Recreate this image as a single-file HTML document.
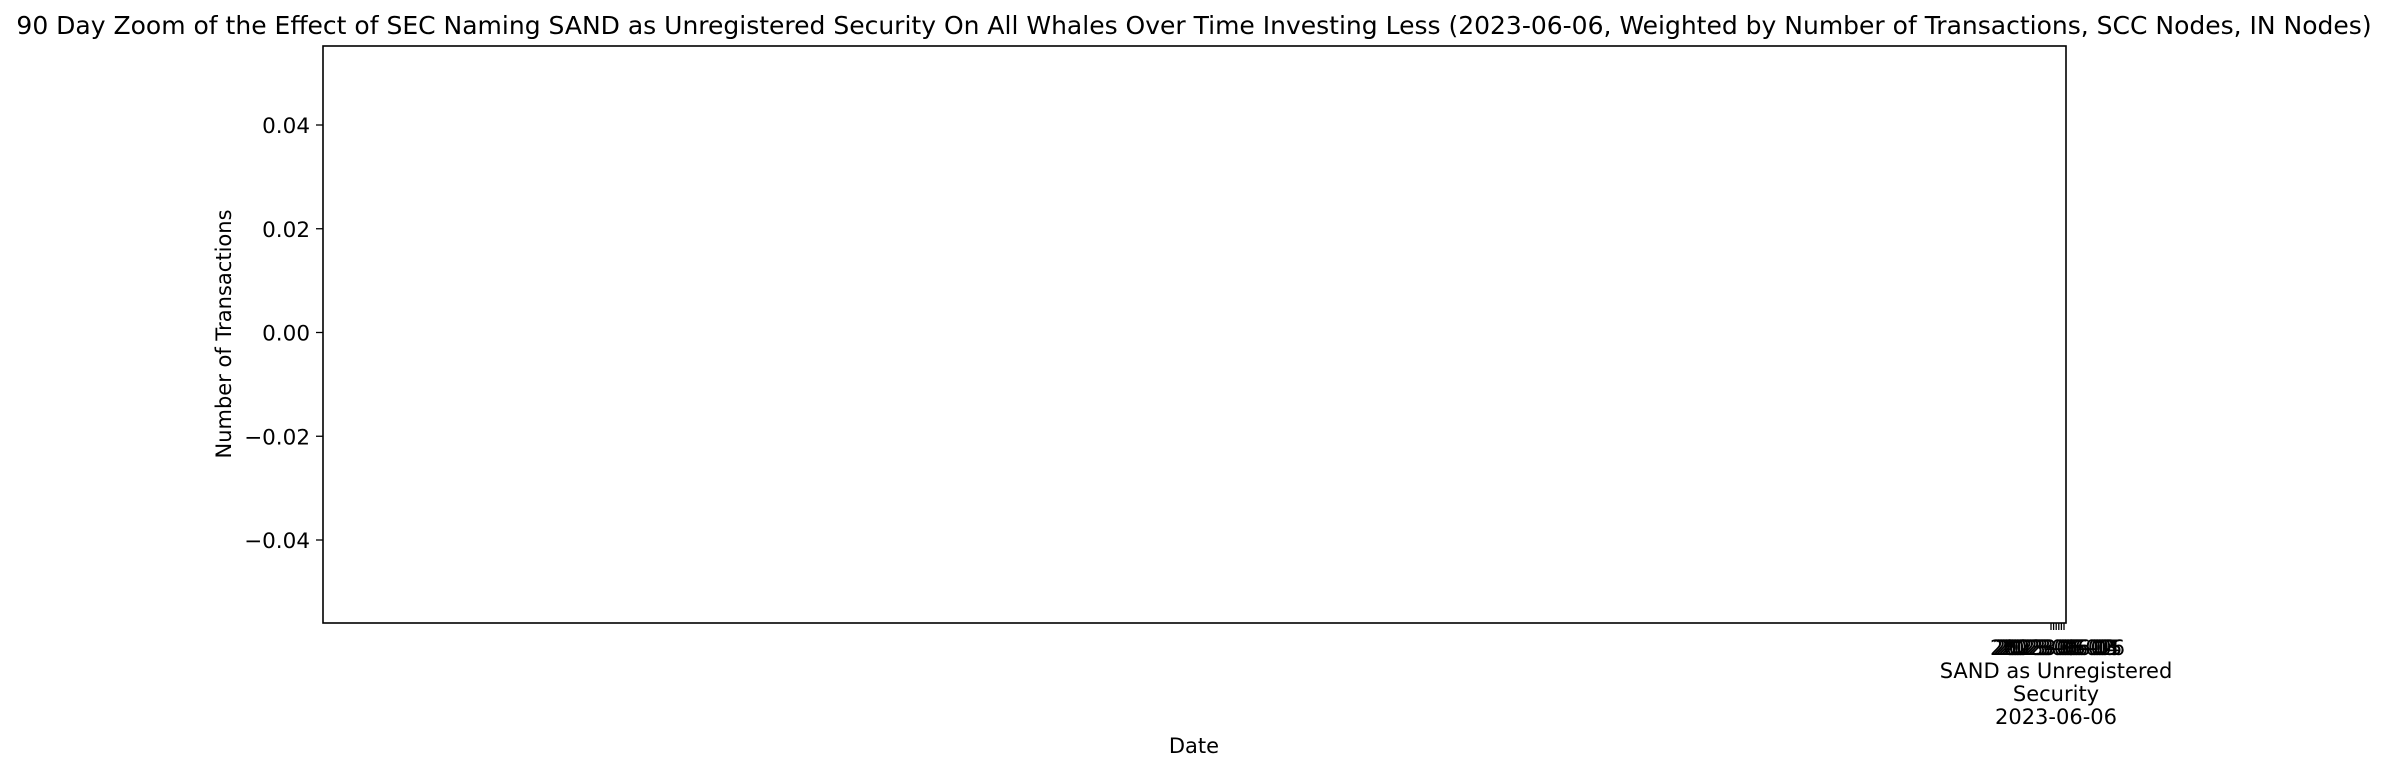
<!DOCTYPE html>
<html><head><meta charset="utf-8"><style>
html,body{margin:0;padding:0;background:#fff;}
svg{display:block;font-family:"DejaVu Sans","Liberation Sans",sans-serif;}
</style></head><body>
<svg id="chart" width="2390" height="771" viewBox="0 0 2390 771">
<text x="1194" y="34" text-anchor="middle" font-size="25" fill="#000">90 Day Zoom of the Effect of SEC Naming SAND as Unregistered Security On All Whales Over Time Investing Less (2023-06-06, Weighted by Number of Transactions, SCC Nodes, IN Nodes)</text>
<g id="yticks"></g>
<g id="xticks"></g>
<rect x="323" y="46" width="1743" height="577" fill="none" stroke="#000" stroke-width="1.6"/>
<text transform="translate(231,334) rotate(-90)" text-anchor="middle" font-size="21">Number of Transactions</text>
<text x="1194" y="753" text-anchor="middle" font-size="21">Date</text>
<text x="2056" y="678" text-anchor="middle" font-size="21">SAND as Unregistered</text>
<text x="2056" y="701" text-anchor="middle" font-size="21">Security</text>
<text x="2056" y="724" text-anchor="middle" font-size="21">2023-06-06</text>
</svg>
<script>
const yTicks=[0.04,0.02,0.00,-0.02,-0.04];
const yTickLabels=["0.04","0.02","0.00","\u22120.02","\u22120.04"];
const xDates=["2023-06-01","2023-06-02","2023-06-03","2023-06-04","2023-06-05","2023-06-06"];
const ns="http://www.w3.org/2000/svg";
function yScale(v){return 332.5-(v/0.04)*(332.5-125);}
function xScale(i){return 2051+i*(2064-2051)/(xDates.length-1);}
const yg=document.getElementById('yticks');
yTicks.forEach((v,i)=>{
  const y=yScale(v);
  const l=document.createElementNS(ns,'line');
  l.setAttribute('x1',316);l.setAttribute('x2',323);l.setAttribute('y1',y);l.setAttribute('y2',y);
  l.setAttribute('stroke','#000');l.setAttribute('stroke-width','1.3');
  
  
  yg.appendChild(l);
  const t=document.createElementNS(ns,'text');
  t.setAttribute('x',310);t.setAttribute('y',y+8);t.setAttribute('text-anchor','end');t.setAttribute('font-size','21.5');
  t.textContent=yTickLabels[i];
  
  
  yg.appendChild(t);
});
const xg=document.getElementById('xticks');
xDates.forEach((d,i)=>{
  const x=xScale(i);
  const l=document.createElementNS(ns,'line');
  l.setAttribute('x1',x);l.setAttribute('x2',x);l.setAttribute('y1',623);l.setAttribute('y2',630);
  l.setAttribute('stroke','#000');l.setAttribute('stroke-width','1.3');
  
  
  xg.appendChild(l);
  const t=document.createElementNS(ns,'text');
  t.setAttribute('x',x);t.setAttribute('y',655);t.setAttribute('text-anchor','middle');t.setAttribute('font-size','21');
  t.textContent=d;
  
  
  xg.appendChild(t);
});
</script>
</body></html>
